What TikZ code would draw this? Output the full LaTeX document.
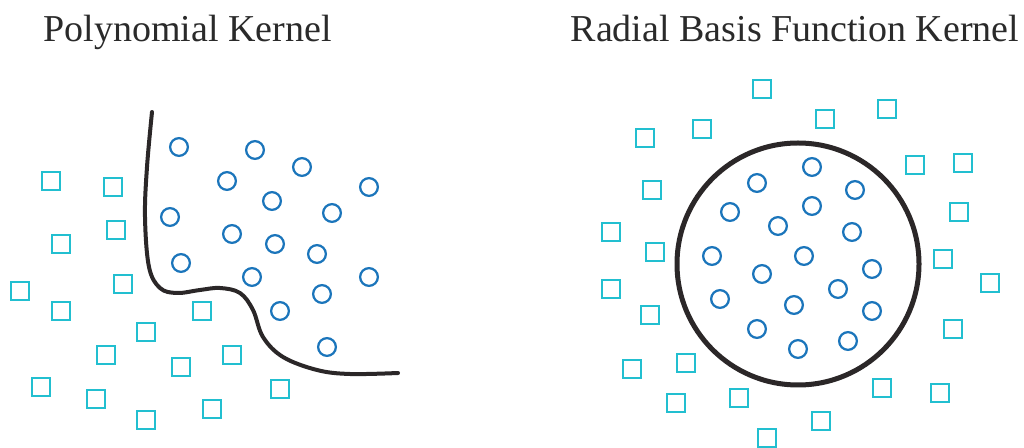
\documentclass[tikz,border=0pt]{standalone}
\usepackage{fontspec}
\setmainfont{Liberation Serif}
\definecolor{classblue}{HTML}{1B75BB}
\definecolor{classcyan}{HTML}{22BFD0}
\definecolor{boundary}{HTML}{2B2728}
\definecolor{ink}{HTML}{2A2A2A}

\begin{document}
\begin{tikzpicture}[
    x=0.75pt, y=-0.75pt,
    inclass/.style={circle, draw=classblue, line width=1.7pt,
        minimum size=13.3pt, inner sep=0pt},
    outclass/.style={rectangle, draw=classcyan, line width=1.7pt,
        minimum size=13pt, inner sep=0pt},
    paneltitle/.style={font=\fontsize{28.5}{32}\selectfont, text=ink,
        anchor=base, inner sep=0pt},
    border/.style={draw=boundary, line width=3pt, line cap=round}
]
\useasboundingbox (0,0) rectangle (1024,448);

% titles
\node[paneltitle] (polytitle) at (187.5,41.7) {Polynomial Kernel};
\node[paneltitle] (rbftitle) at (795,41.7) {Radial Basis Function Kernel};

% polynomial kernel
\foreach \x/\y [count=\i] in {179/147, 255/150, 302/167, 369/187, 227/181,
    272/201, 332/213, 170/217, 232/234, 275/244, 317/254, 181/263, 252/277,
    369/277, 322/294, 280/311, 327/347}
    \node[inclass] (polyin\i) at (\x,\y) {};
\foreach \x/\y [count=\i] in {51/181, 113/187, 116/230, 61/244, 123/284,
    20/291, 61/311, 202/311, 146/332, 106/355, 232/355, 181/367, 41/387,
    96/399, 280/389, 146/420, 212/409}
    \node[outclass] (polyout\i) at (\x,\y) {};

\draw[border] plot[smooth, tension=0.6] coordinates {(152,112) (147,167)
    (145,217) (149,267) (160,288) (177,293) (200,290) (220,288) (240,293)
    (253,310) (263,337) (283,357) (317,370) (350,374) (398,373)};

% rbf kernel
\node[circle, draw=boundary, line width=3.75pt, minimum size=181.5pt,
    inner sep=0pt] (rbfring) at (798,264) {};
\foreach \x/\y [count=\i] in {812/167, 757/183, 855/190, 730/212, 812/206,
    778/226, 852/232, 712/256, 804/256, 872/269, 762/274, 838/289, 720/299,
    794/305, 872/311, 757/329, 848/341, 798/349}
    \node[inclass] (rbfin\i) at (\x,\y) {};
\foreach \x/\y [count=\i] in {762/89, 825/119, 887/109, 702/129, 645/138,
    915/165, 963/163, 652/190, 959/212, 611/232, 655/252, 943/259, 990/283,
    611/289, 650/315, 953/329, 632/369, 686/363, 882/388, 940/393, 676/403,
    739/398, 821/421, 767/438}
    \node[outclass] (rbfout\i) at (\x,\y) {};

\end{tikzpicture}
\end{document}
